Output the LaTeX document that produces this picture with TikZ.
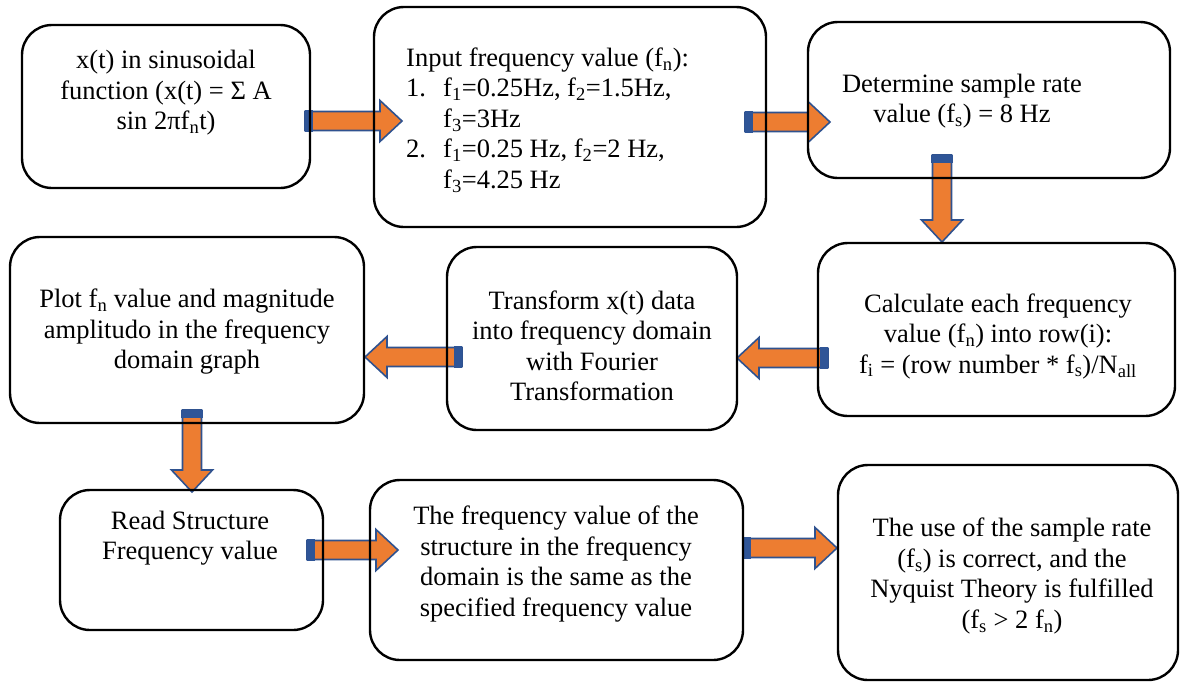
\documentclass[tikz,border=0pt]{standalone}
\usepackage{fontspec}
\setmainfont{Liberation Serif}
\definecolor{arrorange}{RGB}{237,125,49}
\definecolor{arrblue}{RGB}{47,82,143}
\definecolor{tailblue}{RGB}{47,85,151}
\newcommand{\blockarrow}[3]{%
  \begin{scope}[shift={(#1)}, rotate=#2]
    \filldraw[arrowbody] (0,-9.5) -- ({#3-22},-9.5) -- ({#3-22},-20.5) -- (#3,0) -- ({#3-22},20.5) -- ({#3-22},9.5) -- (0,9.5) -- cycle;
    \fill[tailblock] (0,-11) rectangle (8,11);
  \end{scope}}
\begin{document}
\begin{tikzpicture}[x=1pt,y=-1pt,
  box/.style={draw=black, line width=2.4pt, rounded corners=30pt, inner sep=0pt},
  txt/.style={align=center, inner sep=0pt, font=\fontsize{26.5}{30.5}\selectfont},
  arrowbody/.style={fill=arrorange, draw=arrblue, line width=1.6pt, line join=miter},
  tailblock/.style={fill=tailblue}]
\useasboundingbox (0,0) rectangle (1180,681);
% arrow tails
\coordinate (t1) at (305,121);
\coordinate (t2) at (745,122);
\coordinate (t3) at (942,155);
\coordinate (t4) at (828,358);
\coordinate (t5) at (462,357);
\coordinate (t6) at (192,410);
\coordinate (t7) at (307,550);
\coordinate (t8) at (743,548);
\blockarrow{t1}{0}{97}
\blockarrow{t2}{0}{85}
\blockarrow{t3}{-90}{87}
\blockarrow{t4}{180}{91}
\blockarrow{t5}{180}{97}
\blockarrow{t6}{-90}{82}
\blockarrow{t7}{0}{91}
\blockarrow{t8}{0}{94}
% boxes
\node[box, minimum width=288pt, minimum height=163pt] (b1) at (166,106.5) {};
\node[box, minimum width=392pt, minimum height=220pt] (b2) at (570,117) {};
\node[box, minimum width=362pt, minimum height=156pt] (b3) at (989,100) {};
\node[box, minimum width=354pt, minimum height=186pt] (b4) at (187,330) {};
\node[box, minimum width=290pt, minimum height=183pt] (b5) at (592,338.5) {};
\node[box, minimum width=357pt, minimum height=173pt] (b6) at (996.5,329.5) {};
\node[box, minimum width=263pt, minimum height=140pt] (b7) at (191.5,560) {};
\node[box, minimum width=373pt, minimum height=180pt] (b8) at (556.5,570) {};
\node[box, minimum width=340pt, minimum height=215pt] (b9) at (1008,572.5) {};
% texts
\node[txt] (x1) at (166,93) {x(t) in sinusoidal\\function (x(t) = Σ A\\sin 2πf\textsubscript{n}t)};
\node[txt, align=left, anchor=west] (x2) at (406,120) {Input frequency value (f\textsubscript{n}):\\
\makebox[37pt][l]{1.}f\textsubscript{1}=0.25Hz, f\textsubscript{2}=1.5Hz,\\
\hspace*{37pt}f\textsubscript{3}=3Hz\\
\makebox[37pt][l]{2.}f\textsubscript{1}=0.25 Hz, f\textsubscript{2}=2 Hz,\\
\hspace*{37pt}f\textsubscript{3}=4.25 Hz};
\node[txt] (x3) at (962,101) {Determine sample rate\\value (f\textsubscript{s}) = 8 Hz};
\node[txt] (x4) at (187,332) {Plot f\textsubscript{n} value and magnitude\\amplitudo in the frequency\\domain graph};
\node[txt] (x5) at (592,346) {Transform x(t) data\\into frequency domain\\with Fourier\\Transformation};
\node[txt] (x6) at (998,336) {Calculate each frequency\\value (f\textsubscript{n}) into row(i):\\f\textsubscript{i} = (row number * f\textsubscript{s})/N\textsubscript{all}};
\node[txt] (x7) at (190,538) {Read Structure\\Frequency value};
\node[txt] (x8) at (556,564) {The frequency value of the\\structure in the frequency\\domain is the same as the\\specified frequency value};
\node[txt] (x9) at (1012,576) {The use of the sample rate\\(f\textsubscript{s}) is correct, and the\\Nyquist Theory is fulfilled\\(f\textsubscript{s} \textgreater{} 2 f\textsubscript{n})};
\end{tikzpicture}
\end{document}
